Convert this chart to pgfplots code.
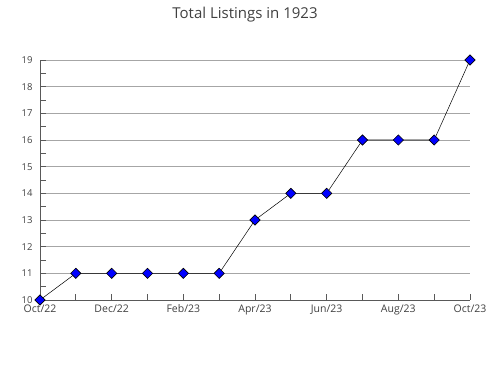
\documentclass[border=0pt]{standalone}
\usepackage{pgfplots}
\pgfplotsset{compat=1.18}
\usepackage{fontspec}
\setmainfont{Open Sans}
\begin{document}
\begin{tikzpicture}[x=1pt,y=1pt]
\path[use as bounding box] (0,0) rectangle (490,380);
\node[font=\fontsize{15}{17}\selectfont, text=black!75] at (245,365) {Total Listings in 1923};
\begin{axis}[
  at={(40pt,80pt)}, anchor=south west,
  scale only axis, width=430pt, height=240pt,
  xmin=0, xmax=12, ymin=10, ymax=19,
  axis x line*=bottom, axis y line*=left,
  axis line style={black!65, line width=0.8pt},
  xtick={0,...,12},
  xticklabels={Oct/22,,Dec/22,,Feb/23,,Apr/23,,Jun/23,,Aug/23,,Oct/23},
  ytick={10,...,19},
  minor ytick={10.5,11.5,...,18.5},
  tick style={black!65, line width=0.8pt},
  major tick length=6pt, minor tick length=6pt,
  tick align=inside,
  ymajorgrids, major grid style={black!35, line width=0.6pt},
  tick label style={text=black!75},
  /pgf/number format/assume math mode=true,
  xticklabel style={font=\fontsize{10.5}{12}\selectfont, anchor=north, yshift=-1pt},
  yticklabel style={font=\fontsize{9.5}{11}\selectfont, anchor=east, xshift=-4pt},
  clip=false,
]
\addplot[black, line width=0.5pt, mark=square*, mark size=3.6pt,
  mark options={fill=blue, draw=black, line width=0.6pt, rotate=45}]
  coordinates {(0,10) (1,11) (2,11) (3,11) (4,11) (5,11) (6,13) (7,14) (8,14) (9,16) (10,16) (11,16) (12,19)};
\end{axis}
\end{tikzpicture}
\end{document}
